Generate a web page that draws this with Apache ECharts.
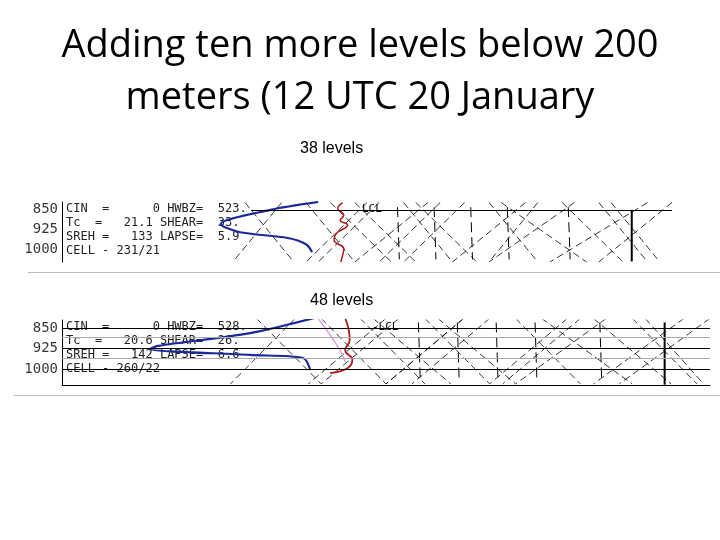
<!DOCTYPE html>
<html><head><meta charset="utf-8">
<script src="https://cdn.jsdelivr.net/npm/echarts@6/dist/echarts.min.js"></script>
<style>html,body{margin:0;background:#fff}#c{width:720px;height:540px}</style>
</head><body><div id="c"></div>
<script>
const titleLines = ['Adding ten more levels below 200', 'meters (12 UTC 20 January'];
const panelTitles = ['38 levels', '48 levels'];
const pressureTicks = [850, 925, 1000];
const infoText1 = ['CIN  =      0 HWBZ=  523.', 'Tc  =   21.1 SHEAR=  33.', 'SREH =   133 LAPSE=  5.9', 'CELL - 231/21'];
const infoText2 = ['CIN  =      0 HWBZ=  528.', 'Tc  =   20.6 SHEAR=  26.', 'SREH =   142 LAPSE=  6.6', 'CELL - 260/22'];
// [x, pressure]
const blue1 = [[42,820],[34,851],[26,905],[29,935],[37,958],[40,982],[41,1012]];
const red1 = [[46,822],[45.2,845],[46.2,870],[45.6,890],[46.8,908],[45,940],[44.6,966],[46.2,1000],[46,1024],[45.7,1050]];
const blue2 = [[39.5,810],[29,869],[14.8,916],[13.6,927],[29,949],[37.2,960],[38.3,1004]];
const red2 = [[43.7,814],[44.4,894],[43.7,931],[44.8,967],[44.1,997],[41.4,1015]];
const pink2 = [[39.5,814],[42.9,931],[43.7,975]];
// background skewed lines: [xTop, xBottom]
const diag1 = [[30,38],[36,28],[40,48],[44,54],[50,40],[52,42],[56,64],[58,68],[62,52],[66,56],[70,78],[72,86],[78,70],[84,70],[88,96],[90,98],[96,80],[60,48],[76,64],[100,88],[82,92],[48,58]];
const diag2 = [[30,40],[36,26],[40,50],[46,56],[50,38],[52,40],[56,66],[58,70],[62,50],[66,54],[70,80],[74,88],[80,68],[84,70],[88,98],[90,99],[96,82],[62,50],[78,66],[100,86],[82,94],[48,60]];
const vert = [55,61,67,73,83];
const barbX = [93.4, 93];

function diagSeries(list, gi, pTop, pBot){
  return list.map(d => ({type:'line', xAxisIndex:gi, yAxisIndex:gi, data:[[d[0],pTop],[d[1],pBot]], symbol:'none', silent:true,
    lineStyle:{color:'#000', width:0.8, type:[7,4]}}));
}
function vertSeries(list, gi, pTop, pBot){
  return list.map(v => ({type:'line', xAxisIndex:gi, yAxisIndex:gi, data:[[v,pTop],[v+0.3,pBot]], symbol:'none', silent:true,
    lineStyle:{color:'#000', width:1, type:[10,5]}}));
}
function tickLabels(gi){
  return {type:'scatter', xAxisIndex:gi, yAxisIndex:gi, symbolSize:0, clip:false,
    data:pressureTicks.map(p=>[0,p]),
    label:{show:true, position:'left', distance:4, formatter:p=>p.value[1], fontFamily:'DejaVu Sans Mono', fontSize:14, color:'#000'}};
}
const series = [];
series.push(...diagSeries(diag1,0,822,1050), ...vertSeries(vert,0,840,1040));
series.push(...diagSeries(diag2,1,815,1055), ...vertSeries(vert,1,830,1050));
series.push({type:'line', xAxisIndex:0, yAxisIndex:0, data:[[barbX[0],850],[barbX[0],1048]], symbol:'none', lineStyle:{color:'#000',width:2}});
series.push({type:'line', xAxisIndex:1, yAxisIndex:1, data:[[barbX[1],830],[barbX[1],1058]], symbol:'none', lineStyle:{color:'#000',width:2}});
series.push({type:'line', xAxisIndex:0, yAxisIndex:0, data:blue1, symbol:'none', smooth:0.3, lineStyle:{color:'#1a2a9a',width:2.2},
  markLine:{silent:true, symbol:'none', label:{show:false}, lineStyle:{color:'#000',width:1,type:'solid'}, data:[[{coord:[31,850]},{coord:[100,850]}]]}});
series.push({type:'line', xAxisIndex:0, yAxisIndex:0, data:red1, symbol:'none', smooth:0.5, lineStyle:{color:'#b01818',width:1.5}});
series.push({type:'line', xAxisIndex:1, yAxisIndex:1, data:blue2, symbol:'none', smooth:0.3, lineStyle:{color:'#1a2a9a',width:2.2},
  markLine:{silent:true, symbol:'none', label:{show:false}, data:[
    {yAxis:850, lineStyle:{color:'#000',width:1,type:'solid'}},
    {yAxis:925, lineStyle:{color:'#000',width:1,type:'solid'}},
    {yAxis:1000, lineStyle:{color:'#000',width:1,type:'solid'}},
    {yAxis:885, lineStyle:{color:'#aaa',width:1,type:'solid'}},
    {yAxis:960, lineStyle:{color:'#aaa',width:1,type:'solid'}}]}});
series.push({type:'line', xAxisIndex:1, yAxisIndex:1, data:pink2, symbol:'none', smooth:0.4, lineStyle:{color:'#e0a0dc',width:1.5}});
series.push({type:'line', xAxisIndex:1, yAxisIndex:1, data:red2, symbol:'none', smooth:0.5, lineStyle:{color:'#b01818',width:1.8}});
series.push(tickLabels(0), tickLabels(1));

const chart = echarts.init(document.getElementById('c'));
const axisX = gi => ({type:'value', gridIndex:gi, min:0, max:100, show:false});
const axisY = (gi,min,max) => ({type:'value', gridIndex:gi, min:min, max:max, inverse:true,
  axisLine:{show:true, onZero:false, lineStyle:{color:'#000'}}, axisTick:{show:false}, axisLabel:{show:false}, splitLine:{show:false}});
chart.setOption({
  animation:false,
  grid:[{left:62, width:610, top:202, height:60},{left:62, width:648, top:320, height:65}],
  xAxis:[axisX(0), Object.assign(axisX(1),{show:true, axisLine:{show:true,lineStyle:{color:'#000'}}, axisTick:{show:false}, axisLabel:{show:false}, splitLine:{show:false}})],
  yAxis:[axisY(0,820,1050), axisY(1,821,1059)],
  series: series,
  graphic:[
    {type:'text', x:360, y:20, style:{text:titleLines.join('\n'), font:'38px "Open Sans"', lineHeight:52, fill:'#000', align:'center'}},
    {type:'text', left:300, top:141, style:{text:panelTitles[0], font:'16px "Liberation Sans"', fill:'#000'}},
    {type:'text', left:310, top:293, style:{text:panelTitles[1], font:'16px "Liberation Sans"', fill:'#000'}},
    {type:'text', left:66, top:202, style:{text:infoText1.join('\n'), font:'12px "DejaVu Sans Mono"', lineHeight:14, fill:'#222'}},
    {type:'text', left:66, top:320, style:{text:infoText2.join('\n'), font:'12px "DejaVu Sans Mono"', lineHeight:14, fill:'#222'}},
    {type:'text', left:362, top:204, style:{text:'LCL', font:'11px "DejaVu Sans Mono"', fill:'#000'}},
    {type:'text', left:372, top:322, style:{text:'-LCL', font:'11px "DejaVu Sans Mono"', fill:'#000'}},
    {type:'rect', shape:{x:28, y:272, width:692, height:1}, style:{fill:'#bbb'}},
    {type:'rect', shape:{x:14, y:395, width:706, height:1}, style:{fill:'#bbb'}}
  ]
});
</script></body></html>
